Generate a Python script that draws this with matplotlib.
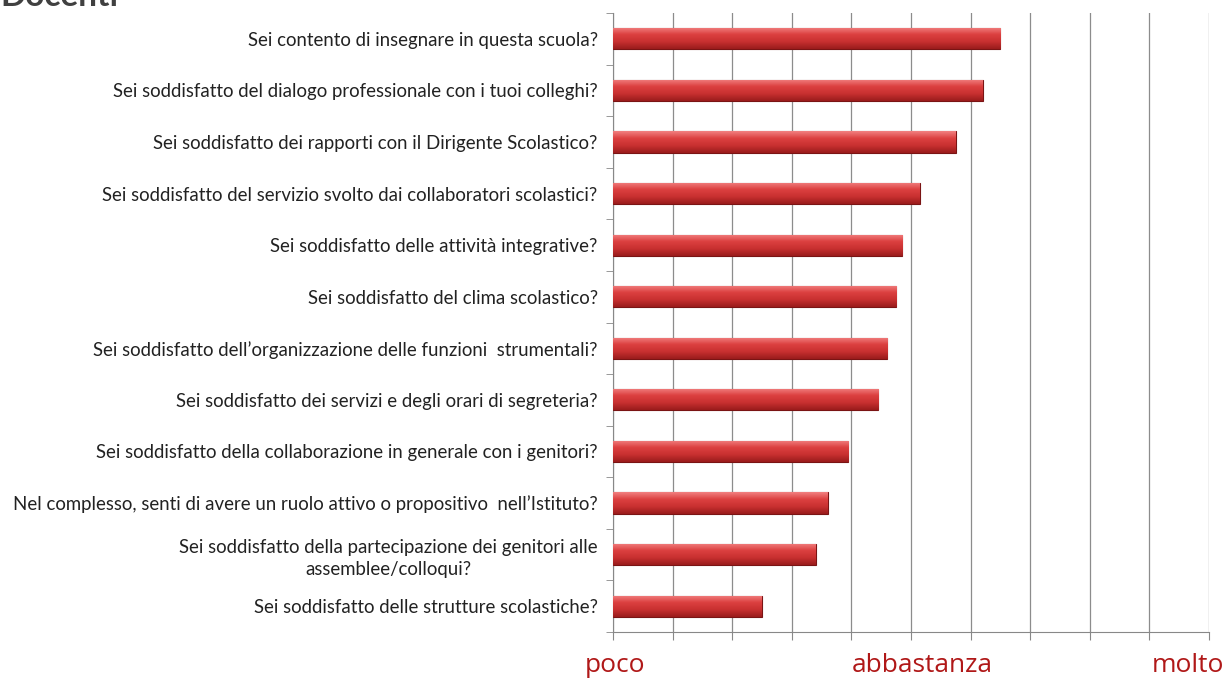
import numpy as np
import matplotlib.pyplot as plt
from matplotlib.colors import LinearSegmentedColormap

domande = [
    "Sei contento di insegnare in questa scuola?",
    "Sei soddisfatto del dialogo professionale con i tuoi colleghi?",
    "Sei soddisfatto dei rapporti con il Dirigente Scolastico?",
    "Sei soddisfatto del servizio svolto dai collaboratori scolastici?",
    "Sei soddisfatto delle attività integrative?",
    "Sei soddisfatto del clima scolastico?",
    "Sei soddisfatto dell\u2019organizzazione delle funzioni  strumentali?",
    "Sei soddisfatto dei servizi e degli orari di segreteria?",
    "Sei soddisfatto della collaborazione in generale con i genitori?",
    "Nel complesso, senti di avere un ruolo attivo o propositivo  nell\u2019Istituto?",
    "Sei soddisfatto della partecipazione dei genitori alle\nassemblee/colloqui?",
    "Sei soddisfatto delle strutture scolastiche?",
]
valori = [2.30, 2.24, 2.15, 2.03, 1.97, 1.95, 1.92, 1.89, 1.79, 1.72, 1.68, 1.50]
scala_pos = [1, 2, 3]
scala_lab = ["poco", "abbastanza", "molto"]

plt.rcParams['font.family'] = ['Lato', 'DejaVu Sans']

fig = plt.figure(figsize=(12.29, 6.78), dpi=100)
ax = fig.add_axes([613 / 1229, 1 - 632 / 678, 596 / 1229, 619 / 678])

y = np.arange(len(valori))
bars = ax.barh(y, [v - 1 for v in valori], left=1, height=0.41,
               color='#c83232', edgecolor='#7a1414', linewidth=0.8, zorder=3)

# gradiente verticale sulle barre (chiaro in alto, scuro in basso)
cmap = LinearSegmentedColormap.from_list('rosso', ['#f28080', '#dc4040', '#c83030', '#9a1c1c'])
grad = np.linspace(0, 1, 64).reshape(-1, 1)
for b in bars:
    x0, y0 = b.get_x(), b.get_y()
    w, h = b.get_width(), b.get_height()
    im = ax.imshow(grad, cmap=cmap, aspect='auto', extent=[x0, x0 + w, y0 + h, y0],
                   origin='upper', zorder=3.5)
    im.set_clip_path(b)

ax.set_xlim(1, 3)
ax.set_ylim(len(valori) - 0.5, -0.5)
ax.set_xticks(np.linspace(1, 3, 11))
ax.set_xticklabels([])
ax.set_yticks(y)
ax.set_yticks(np.arange(-0.5, len(valori), 1), minor=True)
ax.set_yticklabels(domande, fontsize=13.4, color='#222222', ha='right')
for lab in ax.get_yticklabels():
    lab.set_multialignment('center')
    lab.set_linespacing(1.35)
ax.tick_params(axis='y', which='major', length=0, pad=11)
ax.tick_params(axis='y', which='minor', length=5, color='#888888')
ax.tick_params(axis='x', length=6, color='#888888', direction='out')
ax.grid(axis='x', color='#8c8c8c', linewidth=0.9, zorder=0)
ax.set_axisbelow(True)
for s in ['top', 'right']:
    ax.spines[s].set_visible(False)
ax.spines['left'].set_color('#888888')
ax.spines['bottom'].set_color('#888888')

for p, l, dx in zip(scala_pos, scala_lab, [0.007, 0.037, -0.07]):
    ax.text(p + dx, -0.034, l, transform=ax.get_xaxis_transform(), ha='center', va='top',
            fontsize=19, color='#b01818', family=['Open Sans', 'DejaVu Sans'])

fig.text(0.0, 1 - 6 / 678, "Docenti", fontsize=24, fontweight='bold', color='#404040',
         va='baseline')

fig.savefig('out.png', dpi=100)
